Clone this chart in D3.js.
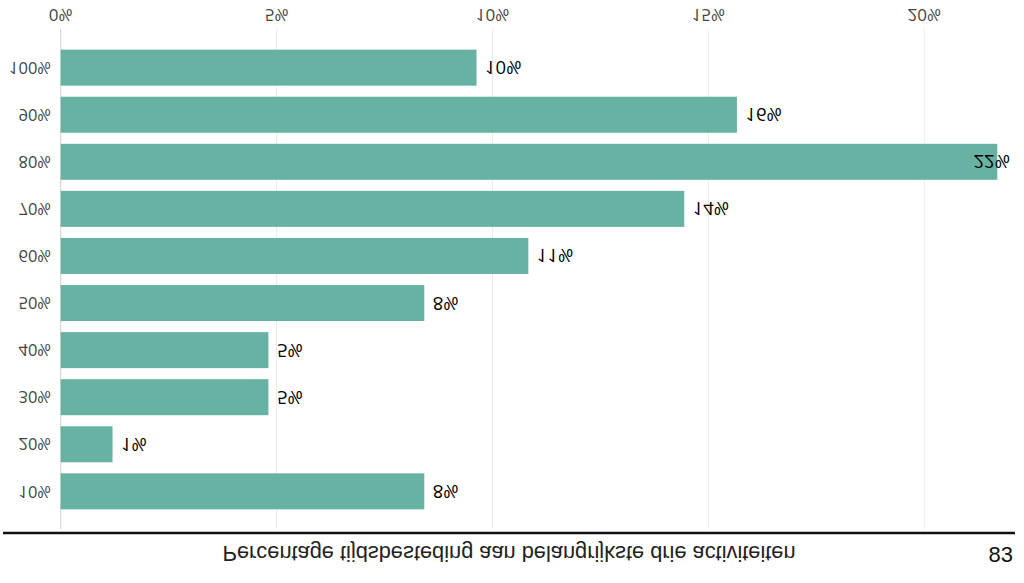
<!DOCTYPE html>
<html>
<head>
<meta charset="utf-8">
<script src="https://cdn.jsdelivr.net/npm/d3@7"></script>
<style>
  html, body { margin: 0; padding: 0; background: #fff; }
  svg { display: block; }
</style>
</head>
<body>
<svg id="chart" width="1024" height="583"></svg>
<script>
// Data
const categories = ["100%", "90%", "80%", "70%", "60%", "50%", "40%", "30%", "20%", "10%"];
const values = [0.0963, 0.1566, 0.2169, 0.1444, 0.1083, 0.0842, 0.0481, 0.0481, 0.0120, 0.0842];
const tickValues = [0, 0.05, 0.10, 0.15, 0.20];
const axisTitle = "Percentage tijdsbesteding aan belangrijkste drie activiteiten";
const pageNumber = "83";

const svg = d3.select("#chart");

const x = d3.scaleLinear().domain([0, 0.2]).range([60.7, 924.3]);
const y = d3.scaleBand().domain(categories).range([44, 515]).paddingInner(0.235).paddingOuter(0.12);
const pct = d3.format(".0%");

const flip = (sel, px, py) => sel.attr("transform", d => `translate(${px(d)},${py(d)}) scale(1,-1)`)
  .attr("x", 0).attr("y", 0).attr("dy", "0.35em");

// grid lines
svg.append("g").selectAll("line").data(tickValues).join("line")
  .attr("x1", d => x(d)).attr("x2", d => x(d))
  .attr("y1", 29).attr("y2", 529)
  .attr("stroke", d => d === 0 ? "#cfcfcf" : "#ececec")
  .attr("stroke-width", 1);

// tick labels (top)
svg.append("g").selectAll("text").data(tickValues).join("text")
  .call(flip, d => x(d), () => 14.5)
  .attr("text-anchor", "middle")
  .attr("font-family", "'Open Sans', sans-serif")
  .attr("font-size", 17)
  .attr("fill", "#444")
  .text(d => pct(d));

// bars
const rows = categories.map((c, i) => ({ c, v: values[i] }));
svg.append("g").selectAll("rect").data(rows).join("rect")
  .attr("x", x(0))
  .attr("y", d => y(d.c))
  .attr("width", d => x(d.v) - x(0))
  .attr("height", y.bandwidth())
  .attr("fill", "#67b2a3");

// category labels
svg.append("g").selectAll("text").data(categories).join("text")
  .call(flip, () => 51, d => y(d) + y.bandwidth() / 2)
  .attr("text-anchor", "end")
  .attr("font-family", "'Open Sans', sans-serif")
  .attr("font-size", 16.5)
  .attr("fill", "#444")
  .text(d => d);

// value labels
const vl = svg.append("g").selectAll("text").data(rows).join("text")
  .call(flip, d => x(d.v) + 8.5, d => y(d.c) + y.bandwidth() / 2)
  .attr("text-anchor", "start")
  .attr("font-family", "'Open Sans', sans-serif")
  .attr("font-size", 18.5)
  .attr("font-weight", 500)
  .attr("fill", "#000")
  .text(d => pct(d.v));
vl.each(function(d) {
  const w = this.getComputedTextLength();
  const px = Math.min(x(d.v) + 8.5, 1010 - w);
  d3.select(this).attr("transform", `translate(${px},${y(d.c) + y.bandwidth() / 2}) scale(1,-1)`);
});

// bottom rule
svg.append("line")
  .attr("x1", 3).attr("x2", 1015)
  .attr("y1", 533).attr("y2", 533)
  .attr("stroke", "#111").attr("stroke-width", 2.5);

// axis title (flipped)
svg.append("text")
  .datum(0)
  .call(flip, () => 509, () => 553.5)
  .attr("text-anchor", "middle")
  .attr("font-family", "'Liberation Sans', Arial, sans-serif")
  .attr("font-size", 21.8)
  .attr("fill", "#222")
  .text(axisTitle);

// page number
svg.append("text")
  .attr("x", 1013).attr("y", 554).attr("dy", "0.35em")
  .attr("text-anchor", "end")
  .attr("font-family", "'Liberation Sans', Arial, sans-serif")
  .attr("font-size", 22)
  .attr("fill", "#111")
  .text(pageNumber);
</script>
</body>
</html>
